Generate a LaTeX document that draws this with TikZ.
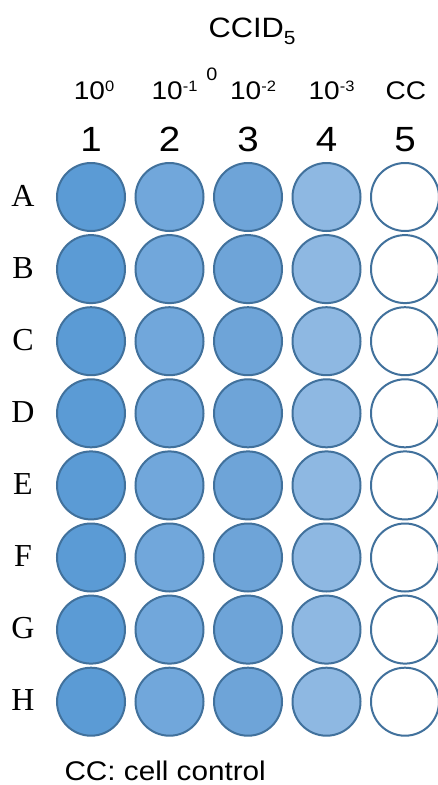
\documentclass[tikz,border=0pt]{standalone}
\usepackage{fontspec}
\setmainfont{Liberation Serif}
\setsansfont{Liberation Sans}[FakeStretch=1.1]
\usepackage{tikz}

\definecolor{wellline}{RGB}{65,113,156}
\definecolor{conc0}{RGB}{91,155,213}
\definecolor{conc1}{RGB}{113,167,219}
\definecolor{conc2}{RGB}{110,164,216}
\definecolor{conc3}{RGB}{142,184,226}
\definecolor{conc4}{RGB}{255,255,255}

\newcommand{\sups}[1]{\raisebox{8pt}{\fontsize{15}{15}\selectfont #1}}
\newcommand{\subs}[1]{\raisebox{-7pt}{\fontsize{19}{19}\selectfont #1}}

\begin{document}
\begin{tikzpicture}[x=1pt,y=-1pt,
    well/.style={circle,draw=wellline,line width=2pt,minimum size=68pt,inner sep=0pt},
    rowlbl/.style={anchor=base,font=\rmfamily\fontsize{32}{34}\selectfont},
    collbl/.style={anchor=base,font=\sffamily\fontsize{35}{37}\selectfont},
    dillbl/.style={anchor=base,font=\sffamily\fontsize{25.5}{27}\selectfont},
    title/.style={anchor=base,font=\sffamily\fontsize{28}{30}\selectfont}]
  \useasboundingbox[fill=white] (0,0) rectangle (438,785);

  \node[title] (ccid) at (252,37.7) {CCID\subs{5}};
  \node[anchor=base,font=\sffamily\fontsize{18}{18}\selectfont] (stray) at (212,80) {0};

  % columns: number, dilution
  \foreach \c/\d/\dx in {1/10\sups{0}/3, 2/10\sups{-1}/5, 3/10\sups{-2}/5, 4/10\sups{-3}/5, 5/CC/1} {
    \node[collbl] (num\c) at ({91+78.5*(\c-1)},151) {\c};
    \node[dillbl] (dil\c) at ({91+78.5*(\c-1)+\dx},99.3) {\d};
  }

  % plate
  \foreach \r [count=\i from 0] in {A,B,C,D,E,F,G,H} {
    \node[rowlbl] (row\r) at (23,{197+72.1*\i+9}) {\r};
    \foreach \c [count=\k from 0] in {1,...,5}
      \node[well,fill=conc\k] (\r\c) at ({91+78.5*\k},{197+72.1*\i}) {};
  }

  \node[anchor=base west,font=\sffamily\fontsize{27}{30}\selectfont] (note) at (61,780) {CC: cell control};
\end{tikzpicture}
\end{document}
